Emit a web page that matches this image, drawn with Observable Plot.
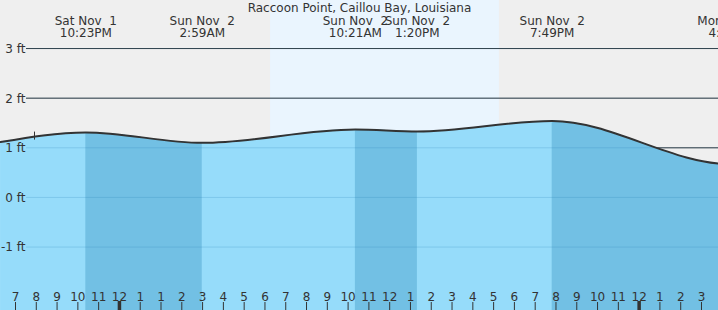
<!DOCTYPE html>
<html>
<head>
<meta charset="utf-8">
<script src="https://cdn.jsdelivr.net/npm/d3@7"></script>
<script src="https://cdn.jsdelivr.net/npm/@observablehq/plot@0.6"></script>
<style>
  body { margin: 0; background: #efefef; }
  svg text, svg tspan { white-space: pre; }
</style>
</head>
<body>
<div id="chart"></div>
<script>
// Time axis: hours elapsed since Sat Nov 1, 7 PM CDT (DST ends on Nov 2, so 1 AM repeats)
const title = "Raccoon Point, Caillou Bay, Louisiana";

// Tide curve readings (elapsed hours, feet); last point lies past the right edge
const curveHours = [-0.72, 3.383, 8.983, 16.35, 19.333, 25.817, 34.43, 41.0];
const curveFeet  = [1.115, 1.31, 1.10, 1.37, 1.33, 1.54, 0.67, 1.0];

// High / low tide labels
const tideHours = [3.383, 8.983, 16.35, 19.333, 25.817, 34.43];
const tideDates = ["Sat Nov  1", "Sun Nov  2", "Sun Nov  2", "Sun Nov  2", "Sun Nov  2", "Mon Nov  3"];
const tideTimes = ["10:23PM", "2:59AM", "10:21AM", "1:20PM", "7:49PM", "4:26AM"];

// Falling-tide bands (high -> low)
const ebbStart = [3.383, 16.35, 25.817];
const ebbEnd   = [8.983, 19.333, 34.43];

// Daylight (sunrise, sunset)
const dayStart = [12.27];
const dayEnd   = [23.28];

// Hour ticks
const hourLabels = ["7","8","9","10","11","12","1","1","2","3","4","5","6","7","8","9","10","11","12",
                    "1","2","3","4","5","6","7","8","9","10","11","12","1","2","3"];
const midnightHours = [5, 30];

// Y axis ticks (feet)
const yTicks = [3, 2, 1, 0, -1];

// Current-time marker
const nowHour = [0.914];
const nowFeet = [1.236];

const xDomain = [-0.7216, 33.818];
const yDomain = [-2.278, 3.968];
const yMin = yDomain[0], yMax = yDomain[1];
const pxPerFt = 310 / (yMax - yMin);

const curve = curveHours.map((t, i) => ({t, ft: curveFeet[i], base: yMin}));
const tides = tideHours.map((t, i) => ({t, label: `${tideDates[i]}\n${tideTimes[i]}`}));
const ebb = ebbStart.map((s, i) => ({s, e: ebbEnd[i]}));
const day = dayStart.map((s, i) => ({s, e: dayEnd[i]}));
const hours = hourLabels.map((label, i) => ({t: i, label}));
const now = nowHour.map((t, i) => ({t, ft: nowFeet[i]}));
const gridStart = 0.53;

const svg = Plot.plot({
  width: 718,
  height: 310,
  margin: 0,
  x: {domain: xDomain, axis: null},
  y: {domain: yDomain, axis: null},
  style: {background: "#efefef", fontFamily: "DejaVu Sans", fontSize: "12px", color: "#333", overflow: "hidden"},
  marks: [
    Plot.rect(day, {x1: "s", x2: "e", y1: yMin, y2: yMax, fill: "#eaf5fe"}),
    Plot.ruleY(yTicks, {x1: gridStart, x2: xDomain[1], stroke: "#333", strokeWidth: 1}),
    Plot.area(curve, {x1: "t", y1: "base", y2: "ft", curve: "monotone-x", fill: "#96dcfa"}),
    Plot.rect(ebb, {x1: "s", x2: "e", y1: yMin, y2: yMax, fill: "#72c0e4"}),
    Plot.ruleY(yTicks, {x1: gridStart, x2: xDomain[1], stroke: "#2a7fb5", strokeOpacity: 0.22, strokeWidth: 1}),
    Plot.line(curve, {x: "t", y: "ft", curve: "monotone-x", stroke: "#333", strokeWidth: 2}),
    Plot.ruleX(now, {x: "t", y1: d => d.ft - 4 / pxPerFt, y2: d => d.ft + 4 / pxPerFt, stroke: "#333", strokeWidth: 1}),
    Plot.ruleX(hours, {x: "t", y1: yMin, y2: yMin + 8 / pxPerFt, stroke: "#333", strokeWidth: 1}),
    Plot.ruleX(midnightHours, {x: d => d, y1: yMin, y2: yMin + 9 / pxPerFt, stroke: "#333", strokeWidth: 3.5}),
    Plot.text(hours, {x: "t", text: "label", frameAnchor: "bottom", dy: -13.8, fill: "#333", lineAnchor: "middle"}),
    Plot.text(yTicks, {y: d => d, text: d => `${d} ft`, frameAnchor: "left", dx: 25, dy: 0.5, textAnchor: "end", fill: "#333"}),
    Plot.text(tides, {x: "t", text: "label", frameAnchor: "top", dy: 26.2, lineHeight: 1, fill: "#333", lineAnchor: "middle"}),
    Plot.text([title], {text: d => d, frameAnchor: "top", dy: 7.2, fill: "#333", lineAnchor: "middle"})
  ]
});

// Clip the falling-tide bands to the water area drawn by Plot
const waterPath = svg.querySelector('g[aria-label="area"] path');
const rectGroups = svg.querySelectorAll('g[aria-label="rect"]');
const ebbGroup = rectGroups[1];
if (waterPath && ebbGroup) {
  const ns = "http://www.w3.org/2000/svg";
  const defs = document.createElementNS(ns, "defs");
  const cp = document.createElementNS(ns, "clipPath");
  cp.setAttribute("id", "waterclip");
  const p = document.createElementNS(ns, "path");
  p.setAttribute("d", waterPath.getAttribute("d"));
  const tr = waterPath.parentNode.getAttribute("transform");
  if (tr) p.setAttribute("transform", tr);
  cp.appendChild(p);
  defs.appendChild(cp);
  svg.insertBefore(defs, svg.firstChild);
  ebbGroup.setAttribute("clip-path", "url(#waterclip)");
}

document.getElementById("chart").appendChild(svg);
</script>
</body>
</html>
